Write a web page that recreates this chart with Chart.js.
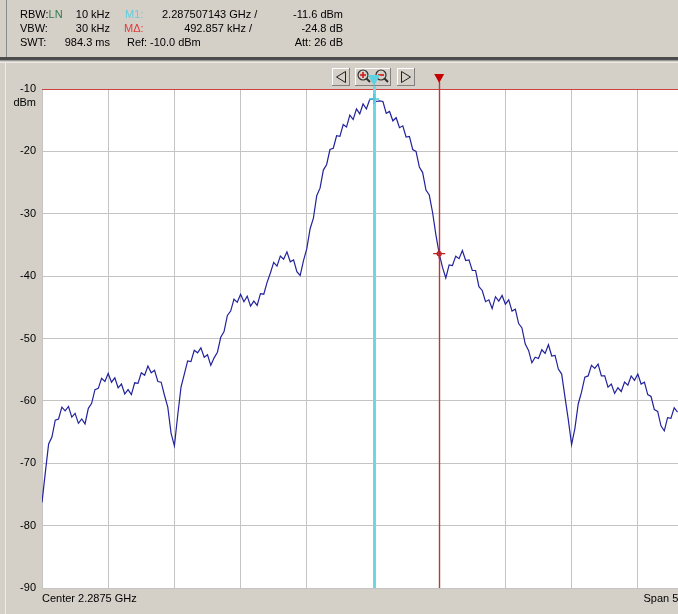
<!DOCTYPE html>
<html>
<head>
<meta charset="utf-8">
<script src="https://cdn.jsdelivr.net/npm/chart.js@4.4.1/dist/chart.umd.min.js"></script>
<style>
  html, body { margin: 0; padding: 0; background: #d4d0c8; overflow: hidden; width: 678px; height: 614px; }
  #wrap { position: relative; width: 720px; height: 614px; }
  canvas { display: block; }
</style>
</head>
<body>
<div id="wrap"><canvas id="spec" width="720" height="614"></canvas></div>
<script>
// Sweep setup (frequency offsets in kHz relative to the center frequency)
const centerLabel = 'Center 2.2875 GHz';
const spanLabel = 'Span 5 MHz';
const spanStartKHz = -2500;
const spanStopKHz = 2500;
const divisionKHz = 500;
const sweepStartKHz = -2500;
const sweepStepKHz = 25;

// Level axis (dBm)
const refLevel = -10;
const bottomLevel = -90;
const levelStep = 10;

// Trace levels, one per sweep point (dBm)
const traceDbm = [
  -76.3, -71.5, -66.9, -65.8, -63.1, -62.9, -61.0, -61.6, -60.9, -62.6,
  -62.0, -63.6, -62.9, -63.7, -61.2, -60.4, -58.2, -58.0, -56.4, -56.9,
  -55.6, -57.0, -56.3, -57.9, -57.3, -58.9, -58.2, -59.0, -57.1, -57.2,
  -55.5, -55.9, -54.4, -55.5, -55.1, -56.9, -57.0, -59.1, -61.0, -65.2,
  -67.2, -62.3, -57.8, -55.7, -53.6, -53.7, -51.9, -52.3, -51.5, -53.0,
  -52.6, -54.3, -53.1, -52.2, -49.8, -48.9, -46.3, -45.6, -43.7, -44.2,
  -42.9, -44.1, -43.2, -44.8, -44.0, -44.7, -42.8, -42.9, -41.0, -39.5,
  -37.8, -38.4, -36.8, -37.3, -36.1, -37.7, -37.4, -39.3, -39.9, -37.5,
  -35.6, -32.4, -30.7, -27.1, -25.9, -23.0, -22.1, -19.7, -19.5, -17.5,
  -17.6, -15.7, -16.1, -14.2, -14.9, -13.2, -14.0, -12.4, -13.2, -11.7,
  -11.6, -12.0, -11.9, -12.0, -13.9, -13.6, -15.1, -14.6, -16.2, -15.9,
  -17.7, -17.6, -19.7, -20.0, -22.5, -23.4, -26.2, -27.0, -29.8, -33.4,
  -36.4, -38.6, -40.3, -38.2, -38.3, -36.8, -37.2, -35.9, -37.5, -37.4,
  -39.1, -39.1, -41.7, -42.3, -44.1, -43.8, -45.2, -43.3, -44.0, -43.1,
  -44.5, -43.8, -45.6, -45.3, -47.6, -48.3, -50.9, -51.9, -53.9, -53.0,
  -53.2, -51.8, -52.4, -51.0, -52.8, -52.7, -54.9, -55.7, -59.4, -63.0,
  -67.0, -64.4, -60.5, -58.6, -56.2, -56.0, -54.3, -54.8, -54.1, -56.0,
  -56.0, -57.8, -57.3, -58.8, -57.9, -58.5, -57.0, -57.5, -56.0, -56.7,
  -55.7, -57.3, -57.0, -59.0, -59.3, -61.4, -61.7, -64.0, -64.8, -62.7,
  -62.8, -61.1, -61.8
];

// Markers: M1 (absolute) and the delta marker (relative to M1)
const m1OffsetKHz = 7.143;
const m1Level = -11.6;
const deltaKHz = 492.857;
const deltaDb = -24.8;

const tracePoints = traceDbm.map((v, i) => ({ x: sweepStartKHz + i * sweepStepKHz, y: v }));

const FONT = '"Liberation Sans", Arial, sans-serif';

function raisedButton(ctx, x, y, w, h) {
  ctx.fillStyle = '#d4d0c8';
  ctx.fillRect(x, y, w, h);
  ctx.fillStyle = '#ffffff';
  ctx.fillRect(x, y, w, 1);
  ctx.fillRect(x, y, 1, h);
  ctx.fillStyle = '#808080';
  ctx.fillRect(x, y + h - 1, w, 1);
  ctx.fillRect(x + w - 1, y, 1, h);
}

function magnifier(ctx, cx, cy, sign) {
  ctx.strokeStyle = '#303030';
  ctx.lineWidth = 1.2;
  ctx.beginPath();
  ctx.arc(cx, cy, 5, 0, Math.PI * 2);
  ctx.stroke();
  ctx.lineWidth = 2;
  ctx.beginPath();
  ctx.moveTo(cx + 3.5, cy + 3.5);
  ctx.lineTo(cx + 7, cy + 7);
  ctx.stroke();
  ctx.strokeStyle = '#d01818';
  ctx.lineWidth = 1.6;
  ctx.beginPath();
  ctx.moveTo(cx - 3, cy);
  ctx.lineTo(cx + 3, cy);
  if (sign === '+') {
    ctx.moveTo(cx, cy - 3);
    ctx.lineTo(cx, cy + 3);
  }
  ctx.stroke();
}

const panelPlugin = {
  id: 'panel',
  beforeDraw(chart) {
    const { ctx, chartArea: a, width, height } = chart;
    ctx.save();
    ctx.fillStyle = '#d4d0c8';
    ctx.fillRect(0, 0, width, height);
    // readout panel frame
    ctx.fillStyle = '#8c8c8c';
    ctx.fillRect(6, 0, 1, 57);
    ctx.fillStyle = '#4c4c4c';
    ctx.fillRect(0, 57, width, 3);
    ctx.fillStyle = '#9a9a9a';
    ctx.fillRect(0, 60, width, 1);
    ctx.fillStyle = '#ecebe6';
    ctx.fillRect(0, 62, width, 1);
    ctx.fillRect(5, 62, 1, height - 62);
    // plot face
    ctx.fillStyle = '#ffffff';
    ctx.fillRect(a.left, a.top, a.right - a.left, a.bottom - a.top);
    ctx.restore();
  },
  afterDatasetsDraw(chart) {
    const { ctx, chartArea: a, scales } = chart;
    const xs = scales.x, ys = scales.y;
    const m1x = xs.getPixelForValue(m1OffsetKHz);
    const m1y = ys.getPixelForValue(m1Level);
    const dx = xs.getPixelForValue(m1OffsetKHz + deltaKHz);
    const dy = ys.getPixelForValue(m1Level + deltaDb);
    ctx.save();
    // marker lines
    ctx.strokeStyle = '#6fd6e4';
    ctx.lineWidth = 3;
    ctx.beginPath();
    ctx.moveTo(Math.round(m1x) + 0.5, 84);
    ctx.lineTo(Math.round(m1x) + 0.5, a.bottom);
    ctx.stroke();
    ctx.strokeStyle = '#b83a3a';
    ctx.lineWidth = 1.4;
    ctx.beginPath();
    ctx.moveTo(Math.round(dx) + 0.5, 82);
    ctx.lineTo(Math.round(dx) + 0.5, a.bottom);
    ctx.stroke();
    // marker crosses on the trace
    ctx.strokeStyle = '#4cc8dc';
    ctx.lineWidth = 1.5;
    ctx.beginPath();
    ctx.moveTo(m1x - 5, m1y); ctx.lineTo(m1x + 5, m1y);
    ctx.moveTo(m1x, m1y - 5); ctx.lineTo(m1x, m1y + 5);
    ctx.stroke();
    ctx.strokeStyle = '#c02020';
    ctx.lineWidth = 1.3;
    ctx.beginPath();
    ctx.moveTo(dx - 6, dy); ctx.lineTo(dx + 6, dy);
    ctx.moveTo(dx, dy - 5); ctx.lineTo(dx, dy + 5);
    ctx.stroke();
    ctx.beginPath();
    ctx.arc(dx, dy, 2, 0, Math.PI * 2);
    ctx.stroke();
    ctx.restore();
  },
  afterDraw(chart) {
    const { ctx, chartArea: a, scales } = chart;
    const xs = scales.x;
    ctx.save();
    ctx.font = '11px ' + FONT;
    ctx.textBaseline = 'middle';
    const put = (t, x, y, align, color) => {
      ctx.textAlign = align;
      ctx.fillStyle = color || '#000';
      ctx.fillText(t, x, y);
    };
    // readout block
    put('RBW:', 20, 15, 'left');
    put('LN', 20 + ctx.measureText('RBW:').width, 15, 'left', '#2f7a50');
    put('10 kHz', 110, 15, 'right');
    put('M1:', 125, 15, 'left', '#5ccfe0');
    put('2.287507143 GHz /', 162, 15, 'left');
    put('-11.6 dBm', 343, 15, 'right');

    put('VBW:', 20, 29, 'left');
    put('30 kHz', 110, 29, 'right');
    put('M\u0394:', 124, 29, 'left', '#e03a3a');
    put('492.857 kHz /', 252, 29, 'right');
    put('-24.8 dB', 343, 29, 'right');

    put('SWT:', 20, 43, 'left');
    put('984.3 ms', 110, 43, 'right');
    put('Ref:', 127, 43, 'left');
    put('-10.0 dBm', 150, 43, 'left');
    put('Att: 26 dB', 343, 43, 'right');

    // unit under the top level label
    put('dBm', 36, 103, 'right');

    // frequency annotations
    put(centerLabel, a.left, 599, 'left');
    put(spanLabel, a.right, 599, 'right');

    // toolbar buttons
    raisedButton(ctx, 332, 68, 18, 18);
    raisedButton(ctx, 355, 68, 36, 18);
    raisedButton(ctx, 397, 68, 18, 18);
    ctx.strokeStyle = '#202020';
    ctx.lineWidth = 1;
    ctx.beginPath();
    ctx.moveTo(345.5, 71.5); ctx.lineTo(336.5, 77); ctx.lineTo(345.5, 82.5); ctx.closePath();
    ctx.stroke();
    ctx.beginPath();
    ctx.moveTo(401.5, 71.5); ctx.lineTo(410.5, 77); ctx.lineTo(401.5, 82.5); ctx.closePath();
    ctx.stroke();
    magnifier(ctx, 363, 75, '+');
    magnifier(ctx, 381, 75, '-');

    // marker flags
    const m1x = xs.getPixelForValue(m1OffsetKHz);
    const dx = xs.getPixelForValue(m1OffsetKHz + deltaKHz);
    ctx.fillStyle = '#5fd2e2';
    ctx.beginPath();
    ctx.moveTo(m1x - 6, 75); ctx.lineTo(m1x + 6, 75); ctx.lineTo(m1x, 86); ctx.closePath();
    ctx.fill();
    ctx.fillStyle = '#c40000';
    ctx.beginPath();
    ctx.moveTo(dx - 5, 74); ctx.lineTo(dx + 5, 74); ctx.lineTo(dx, 83); ctx.closePath();
    ctx.fill();
    ctx.restore();
  }
};

new Chart(document.getElementById('spec'), {
  type: 'line',
  data: {
    datasets: [{
      data: tracePoints,
      borderColor: '#22229c',
      borderWidth: 1.2,
      pointRadius: 0,
      tension: 0,
      fill: false
    }]
  },
  options: {
    responsive: false,
    animation: false,
    parsing: true,
    layout: { padding: { left: 0, top: 89, right: 16, bottom: 26 } },
    plugins: { legend: { display: false }, tooltip: { enabled: false } },
    scales: {
      x: {
        type: 'linear',
        min: spanStartKHz,
        max: spanStopKHz,
        ticks: { display: false, stepSize: divisionKHz },
        grid: { color: '#c4c4c4', lineWidth: 1, drawTicks: false },
        border: { display: false }
      },
      y: {
        type: 'linear',
        min: bottomLevel,
        max: refLevel,
        afterFit: (s) => { s.width = 42; },
        ticks: {
          stepSize: levelStep,
          padding: 6,
          color: '#000',
          font: { size: 11, family: FONT },
          callback: (v) => String(v)
        },
        grid: {
          color: (c) => (c.tick && c.tick.value === refLevel ? '#d04040' : '#c4c4c4'),
          lineWidth: 1,
          drawTicks: false
        },
        border: { display: false }
      }
    }
  },
  plugins: [panelPlugin]
});
</script>
</body>
</html>
